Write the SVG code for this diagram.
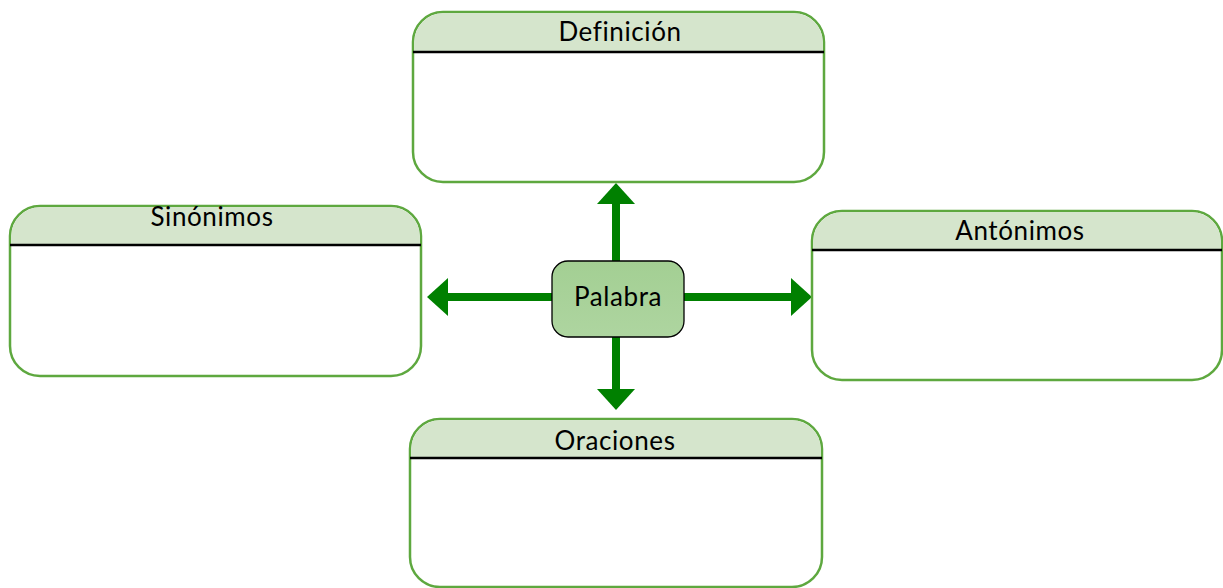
<svg xmlns="http://www.w3.org/2000/svg" width="1223" height="588" viewBox="0 0 1223 588">
<style>
.box{fill:#ffffff;stroke:#5ea83f;stroke-width:2.5}
.hdr{fill:#d5e5cc}
.sep{stroke:#000;stroke-width:2.5}
.lbl{font-family:Lato,"Liberation Sans",sans-serif;font-size:26px;letter-spacing:0.6px;fill:#000;text-anchor:middle}
.arr{stroke:#008000;stroke-width:8;fill:none}
.head{fill:#008000}
</style>
<defs>
<linearGradient id="pg" x1="0" y1="0" x2="0" y2="1">
<stop offset="0" stop-color="#a3cf93"/>
<stop offset="1" stop-color="#aed5a0"/>
</linearGradient>
</defs>
<g id="connectors">
<line class="arr" x1="616" y1="261" x2="616" y2="201"/>
<polygon class="head" points="616,183 597,204 635,204"/>
<line class="arr" x1="616" y1="337" x2="616" y2="392"/>
<polygon class="head" points="616,410 597,389 635,389"/>
<line class="arr" x1="552" y1="297" x2="446" y2="297"/>
<polygon class="head" points="427,297 448,278 448,316"/>
<line class="arr" x1="684" y1="297" x2="793" y2="297"/>
<polygon class="head" points="812,297 791,278 791,316"/>
</g>
<g id="definicion">
<rect class="box" x="413" y="12" width="411" height="170" rx="30"/>
<path class="hdr" d="M414.3,52 V42 A28.7,28.7 0 0 1 443,13.3 H794 A28.7,28.7 0 0 1 822.7,42 V52 Z"/>
<line class="sep" x1="413" y1="52" x2="824" y2="52"/>
<text class="lbl" x="620" y="41">Definición</text>
</g>
<g id="sinonimos">
<rect class="box" x="10" y="206" width="411" height="170" rx="30"/>
<path class="hdr" d="M11.3,245 V236 A28.7,28.7 0 0 1 40,207.3 H391 A28.7,28.7 0 0 1 419.7,236 V245 Z"/>
<line class="sep" x1="10" y1="245" x2="421" y2="245"/>
<text class="lbl" x="212" y="226">Sinónimos</text>
</g>
<g id="antonimos">
<rect class="box" x="812" y="211" width="410" height="169" rx="30"/>
<path class="hdr" d="M813.3,250 V241 A28.7,28.7 0 0 1 842,212.3 H1192 A28.7,28.7 0 0 1 1220.7,241 V250 Z"/>
<line class="sep" x1="812" y1="250" x2="1222" y2="250"/>
<text class="lbl" x="1020" y="240">Antónimos</text>
</g>
<g id="oraciones">
<rect class="box" x="410" y="419" width="412" height="168" rx="30"/>
<path class="hdr" d="M411.3,458 V448 A28.7,28.7 0 0 1 440,420.3 H792 A28.7,28.7 0 0 1 820.7,448 V458 Z"/>
<line class="sep" x1="410" y1="458" x2="822" y2="458"/>
<text class="lbl" x="615" y="450">Oraciones</text>
</g>
<g id="palabra">
<rect x="552" y="261" width="132" height="76" rx="16" fill="url(#pg)" stroke="#000" stroke-width="1.3"/>
<text class="lbl" x="618" y="306">Palabra</text>
</g>
</svg>
